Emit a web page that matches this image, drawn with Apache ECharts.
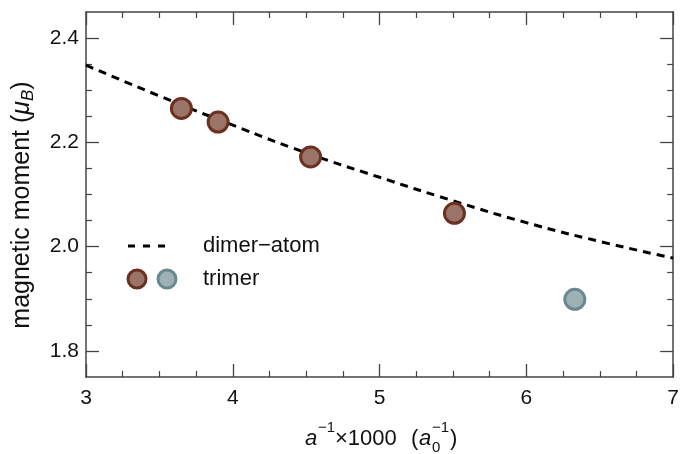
<!DOCTYPE html>
<html>
<head>
<meta charset="utf-8">
<script src="https://cdn.jsdelivr.net/npm/echarts@6/dist/echarts.min.js"></script>
<style>html,body{margin:0;padding:0;background:#fff}#c{width:682px;height:454px}</style>
</head>
<body>
<div id="c"></div>
<script>
// ---- data ----
const dimerAtomX = [3, 3.5, 4, 4.5, 5, 5.5, 6, 6.5, 7];
const dimerAtomY = [2.348, 2.289, 2.233, 2.180, 2.133, 2.088, 2.046, 2.010, 1.978];
const trimerBrownX = [3.65, 3.90, 4.53, 5.51];
const trimerBrownY = [2.265, 2.239, 2.172, 2.064];
const trimerBlueX = [6.33];
const trimerBlueY = [1.899];
const yMajorTicks = [1.8, 2.0, 2.2, 2.4];
const yMinorTicks = [1.85, 1.9, 1.95, 2.05, 2.1, 2.15, 2.25, 2.3, 2.35];
const xMin = 3, xMax = 7, xStep = 1;
const yMin = 1.75, yMax = 2.45;

const FONT = 'Liberation Sans, Arial, Helvetica, sans-serif';
const AX = '#444';
const TXT = '#111';

const zip = (a, b) => a.map((v, i) => [v, b[i]]);

function xAx(pos, labels) {
  return {
    type: 'value', position: pos, min: xMin, max: xMax, interval: xStep,
    axisLine: { show: true, onZero: false, lineStyle: { color: AX, width: 1.5 } },
    axisTick: { show: true, inside: true, length: 13, lineStyle: { color: AX, width: 1.3 } },
    minorTick: { show: true, splitNumber: 4, length: 6, lineStyle: { color: AX, width: 1.2 } },
    axisLabel: { show: labels, margin: 11, fontSize: 21, color: TXT, fontFamily: FONT },
    splitLine: { show: false }
  };
}
function yAx(pos, ticks, len, labels, line) {
  return {
    type: 'value', position: pos, min: yMin, max: yMax,
    axisLine: { show: line, onZero: false, lineStyle: { color: AX, width: 1.5 } },
    axisTick: { show: true, inside: true, length: len, customValues: ticks, lineStyle: { color: AX, width: len > 8 ? 1.3 : 1.2 } },
    axisLabel: { show: labels, customValues: ticks, margin: 7, fontSize: 21, color: TXT, fontFamily: FONT,
      formatter: v => v.toFixed(1) },
    splitLine: { show: false }
  };
}

function txt(x, y, s, size, italic) {
  return { type: 'text', x: x, y: y,
    style: { text: s, fontSize: size, fontStyle: italic ? 'italic' : 'normal', fontFamily: FONT, fill: TXT, verticalAlign: 'middle' } };
}

const chart = echarts.init(document.getElementById('c'), null, { renderer: 'canvas' });
const legendY1 = 246, legendY2 = 279;
chart.setOption({
  animation: false,
  backgroundColor: '#fff',
  grid: { left: 86, right: 5, top: 12, bottom: 77, containLabel: false },
  xAxis: [xAx('bottom', true), xAx('top', false)],
  yAxis: [
    yAx('left', yMajorTicks, 13, true, true),
    yAx('left', yMinorTicks, 6, false, false),
    yAx('right', yMajorTicks, 13, false, true),
    yAx('right', yMinorTicks, 6, false, false)
  ],
  series: [
    {
      type: 'line', name: 'dimer−atom', xAxisIndex: 0, yAxisIndex: 0,
      data: zip(dimerAtomX, dimerAtomY), smooth: true, showSymbol: false, symbol: 'none',
      lineStyle: { color: '#000', width: 3, type: [8, 6] }, z: 3
    },
    {
      type: 'scatter', name: 'trimer', xAxisIndex: 0, yAxisIndex: 0,
      data: zip(trimerBrownX, trimerBrownY), symbolSize: 20,
      itemStyle: { color: '#9a7469', borderColor: '#6b3020', borderWidth: 3, opacity: 1 }, z: 4
    },
    {
      type: 'scatter', name: 'trimer2', xAxisIndex: 0, yAxisIndex: 0,
      data: zip(trimerBlueX, trimerBlueY), symbolSize: 20,
      itemStyle: { color: '#9eb2b6', borderColor: '#6a898e', borderWidth: 3, opacity: 1 }, z: 4
    }
  ],
  graphic: [
    // legend
    { type: 'line', shape: { x1: 128, y1: legendY1, x2: 165, y2: legendY1 },
      style: { stroke: '#000', lineWidth: 3, lineDash: [7, 8] } },
    txt(203, legendY1, 'dimer−atom', 22, false),
    { type: 'circle', shape: { cx: 137, cy: legendY2, r: 9 },
      style: { fill: '#9a7469', stroke: '#6b3020', lineWidth: 3 } },
    { type: 'circle', shape: { cx: 167, cy: legendY2, r: 9 },
      style: { fill: '#9eb2b6', stroke: '#6a898e', lineWidth: 3 } },
    txt(203, legendY2, 'trimer', 22, false),
    // y title
    { type: 'text', x: 22, y: 205, rotation: Math.PI / 2,
      style: {
        text: '{n|magnetic moment (}{i|μ}{s|B}{n|)}', align: 'center', verticalAlign: 'middle',
        fill: TXT, fontFamily: FONT,
        rich: {
          n: { fontSize: 25, lineHeight: 30, fontFamily: FONT, fill: TXT },
          i: { fontSize: 25, lineHeight: 30, fontStyle: 'italic', fontFamily: FONT, fill: TXT },
          s: { fontSize: 17, lineHeight: 16, verticalAlign: 'bottom', fontStyle: 'italic', fontFamily: FONT, fill: TXT }
        }
      } },
    // x title
    txt(305, 439, 'a', 22, true),
    txt(318, 428, '−1', 15, false),
    txt(335, 439, '×1000', 22, false),
    txt(411, 439, '(', 22, false),
    txt(419, 439, 'a', 22, true),
    txt(432, 448, '0', 15, false),
    txt(432, 428, '−1', 15, false),
    txt(450, 439, ')', 22, false)
  ]
});
</script>
</body>
</html>
